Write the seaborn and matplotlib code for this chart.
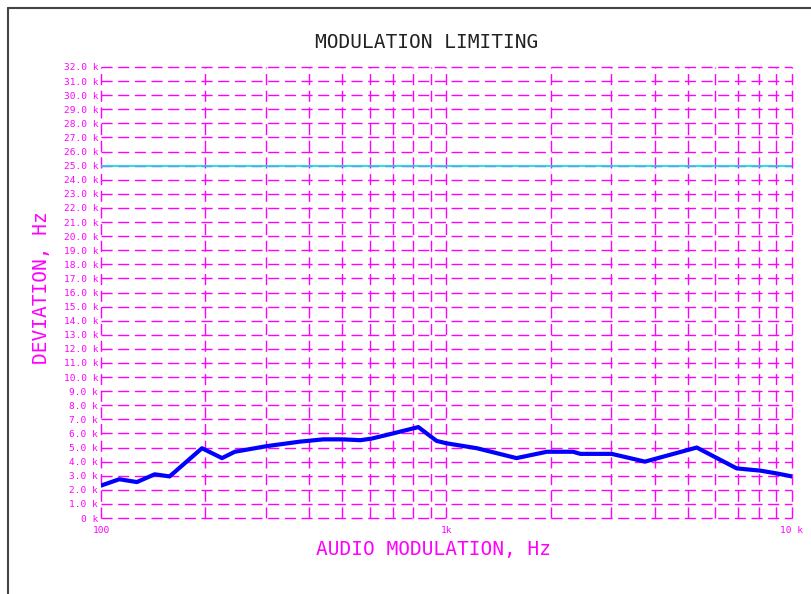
import matplotlib
matplotlib.use("Agg")
import matplotlib.pyplot as plt
from matplotlib.lines import Line2D
import seaborn as sns
import numpy as np
import pandas as pd

# Data (frequency in Hz, deviation in kHz)
freq_hz = [100, 113, 127, 143, 158, 196, 224, 244, 302, 377, 440, 502, 563, 606,
           700, 829, 936, 1000, 1225, 1594, 1953, 2325, 2440, 3006, 3754, 5300,
           6918, 8100, 9000, 10000]
deviation_k = [2.3, 2.75, 2.55, 3.1, 2.95, 4.95, 4.25, 4.7, 5.1, 5.42, 5.58, 5.58,
               5.52, 5.63, 6.0, 6.45, 5.47, 5.3, 4.95, 4.25, 4.7, 4.7, 4.55, 4.55,
               4.0, 5.0, 3.52, 3.36, 3.17, 2.95]
limit_k = 25.0
y_ticks = list(range(0, 33))
y_tick_labels = ["0 k"] + [f"{v}.0 k" for v in range(1, 33)]
x_major = [100, 1000, 10000]
x_major_labels = ["100", "1k", "10 k"]
x_minor = [200, 300, 400, 500, 600, 700, 800, 900,
           2000, 3000, 4000, 5000, 6000, 7000, 8000, 9000]

df = pd.DataFrame({"freq": freq_hz, "dev": deviation_k})

MAG = "#ff00ff"
MONO = ["DejaVu Sans Mono"]

sns.set_style("white")
plt.rcParams["font.family"] = MONO

fig = plt.figure(figsize=(8.12, 5.94), dpi=100)
ax = fig.add_axes([101 / 812, 1 - 518 / 594, (792 - 101) / 812, (518 - 67) / 594])

ax.set_xscale("log")
ax.set_xlim(100, 10000)
ax.set_ylim(0, 32)

# dashed magenta grid, including the outer edges
dash = (0, (8, 4))
for x in x_major + x_minor:
    ax.axvline(x, color=MAG, lw=1, ls=dash, clip_on=False, zorder=1)
for y in y_ticks:
    ax.axhline(y, color=MAG, lw=1, ls=dash, clip_on=False, zorder=1)

# limit line
ax.axhline(limit_k, color="#00e0e0", lw=1.2, zorder=2)

sns.lineplot(data=df, x="freq", y="dev", ax=ax, color="#0000ff", lw=3, zorder=3)

for s in ax.spines.values():
    s.set_visible(False)

ax.set_xticks(x_major)
ax.set_xticklabels(x_major_labels)
ax.set_xticks([], minor=True)
ax.set_yticks(y_ticks)
ax.set_yticklabels(y_tick_labels)
ax.tick_params(axis="both", length=0, colors=MAG, labelsize=6.8)
ax.tick_params(axis="y", pad=2)
ax.tick_params(axis="x", pad=6)
ax.set_xlabel("")
ax.set_ylabel("")

fig.text(427 / 812, 1 - 43 / 594, "MODULATION LIMITING", ha="center", va="center",
         fontsize=14, color="#222222")
fig.text(433 / 812, 1 - 550 / 594, "AUDIO MODULATION, Hz", ha="center", va="center",
         fontsize=14, color=MAG)
fig.text(42 / 812, 1 - 288 / 594, "DEVIATION, Hz", ha="center", va="center",
         fontsize=14, color=MAG, rotation=90)

# window frame (left and top edges)
fig.add_artist(Line2D([8.5 / 812, 8.5 / 812], [0, 1 - 7.5 / 594], transform=fig.transFigure,
                      color="#444444", lw=1.5))
fig.add_artist(Line2D([8.5 / 812, 1], [1 - 7.5 / 594, 1 - 7.5 / 594], transform=fig.transFigure,
                      color="#444444", lw=1.5))

fig.savefig("out.png", dpi=100)
